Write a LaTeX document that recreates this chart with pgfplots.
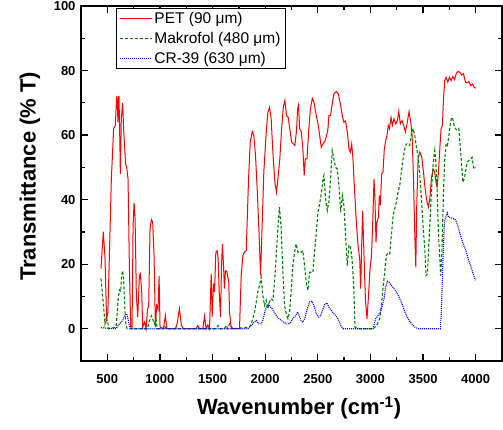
\documentclass[border=0pt]{standalone}
\usepackage{fontspec}
\setmainfont{Liberation Sans}
\usepackage{pgfplots}
\usepackage{pgfplotstable}
\pgfplotsset{compat=1.18}

\definecolor{petred}{RGB}{255,0,0}
\definecolor{makgreen}{RGB}{0,128,0}
\definecolor{crblue}{RGB}{0,0,255}

% PET (90 um)
\pgfplotstableread{
x y
440 18.6
462 30.1
478 22
493 3
505 5
519 21.7
538 46
560 62
576 63
589 72
595 70
601 64
606 72
611 72
618 60
624 48
633 65
646 70
655 62
665 56
674 51
684 50
697 46.4
709 20.7
722 0.6
735 0.5
745 32
754 39
764 34
776 10.3
789 3.6
805 16.5
814 17
827 11.4
836 0.5
855 2.1
868 0
883 6.2
893 6.8
906 31
919 33.8
931 33
944 22.7
957 0.5
969 7.2
982 6
992 16.3
1001 0.5
1033 0
1052 4.1
1065 0
1147 0
1163 1.5
1185 6.2
1204 1
1223 0
1344 0
1360 1
1376 0
1408 0
1423 3.9
1439 0
1455 1.2
1471 0
1487 17
1496 3.6
1509 14
1519 11.4
1531 23.7
1544 24.2
1553 21.7
1563 11.4
1576 3.6
1585 19.6
1594 26.3
1604 19.6
1613 12.4
1623 18
1636 17.7
1654 14.4
1661 5.2
1677 0
1756 0
1772 16.5
1788 22.7
1804 23.8
1820 24.2
1842 46.4
1858 57.8
1877 61.1
1892 59.9
1908 53.7
1924 43.3
1940 31
1956 16.5
1972 33
1987 48.5
2010 60.9
2025 67
2041 68.6
2057 65
2073 54.7
2092 45.4
2108 42.3
2124 47.5
2139 52.6
2156 61.9
2172 68.6
2187 70.7
2203 66
2219 65.5
2234 61.9
2251 57.8
2267 57.3
2282 56.8
2298 61.4
2308 68.1
2317 69.3
2327 62
2343 61
2358 55.7
2371 47.5
2381 52.6
2397 52.6
2413 61
2429 68
2448 71.4
2463 70.2
2486 66
2505 63
2524 58.3
2533 56.2
2549 57.3
2565 58
2580 59.4
2596 61.8
2605 66
2621 66
2637 69.7
2653 72.8
2676 73.5
2695 72.8
2714 69.7
2733 66
2748 64
2764 64.4
2780 61
2796 55.7
2809 54.7
2822 57.3
2834 52.6
2850 42.3
2866 33
2882 25.8
2898 21.7
2907 12.4
2917 25.8
2926 36.6
2936 25.8
2952 9.3
2967 3.1
2980 9.3
2996 18.6
3009 22.2
3021 32
3034 46.4
3043 40.2
3053 26.8
3062 33
3076 34.6
3085 41.3
3094 38.2
3107 48
3119 48.5
3132 55.7
3145 58.3
3157 59.9
3170 63
3180 62
3196 65.5
3208 63
3224 65
3240 63.5
3256 64.5
3269 67.3
3284 63.5
3300 64.5
3316 63
3332 61
3348 63.5
3367 67.3
3383 64
3396 59.9
3409 46.4
3421 29.9
3431 19.1
3440 38.2
3453 52.6
3469 54.7
3488 53.1
3504 48.5
3520 43.3
3538 39.2
3551 37.7
3564 40.2
3579 46.4
3595 49.5
3611 48.5
3623 45.4
3633 43.9
3646 48.5
3659 55.7
3671 62
3684 63
3694 71.2
3706 76.9
3719 77.9
3735 76.4
3751 77.9
3767 76.9
3783 78.2
3799 77.2
3815 79
3830 79.7
3849 79.5
3868 78.6
3884 79
3903 76.4
3919 76.2
3935 76.6
3954 75.3
3970 75.8
3985 74.8
4001 74.5
}\pet

% Makrofol (480 um)
\pgfplotstableread{
x y
440 15.5
455 10.3
469 5.2
478 1.5
488 3.1
503 2.5
513 0
583 0.5
595 5.2
607 10.3
617 12
627 11.5
636 16.5
646 18
655 15.5
665 7.2
674 2
687 0
884 0
893 2
909 3
919 4
931 3
947 1.5
963 3
973 0
1026 0
1042 1
1058 0
1534 0
1553 1
1572 0
1613 0
1629 1
1645 0
1661 1.5
1693 0
1851 0.5
1867 1.5
1883 3.1
1899 5.2
1915 8.3
1930 11.4
1946 13.4
1962 16
1978 10.3
1994 7.2
2010 8.8
2025 6.2
2041 8.3
2057 9.3
2073 8.8
2089 14.4
2105 22.7
2120 31
2136 37.7
2152 31
2168 17.5
2184 7.2
2200 4.7
2216 3.1
2232 5.2
2248 12.4
2263 19.6
2279 23.7
2295 26.3
2311 23.7
2327 24
2343 23.7
2358 24.2
2374 19.6
2390 14.4
2406 11.9
2422 17.5
2437 17.5
2453 17.5
2469 23.7
2486 29.9
2501 36.1
2517 38.7
2533 41.8
2549 46.4
2558 47.5
2574 40.2
2590 36.6
2605 39.2
2621 46.4
2637 55.2
2653 52.6
2669 50
2685 49.5
2701 44.3
2717 36.1
2733 41.3
2748 38.2
2764 28.9
2780 19.6
2796 25.8
2809 25.8
2825 21.7
2841 13.4
2853 0.5
2882 0
3024 0
3056 0.8
3088 3.1
3104 7.2
3119 12.4
3135 17.5
3151 22.7
3167 23.5
3183 23.2
3199 28.9
3215 35.1
3231 37.2
3246 39.2
3262 42.3
3278 44.3
3294 48.5
3310 52.6
3326 55.7
3342 57.3
3357 57.3
3373 56.8
3389 60.4
3405 62
3421 59.9
3437 56.2
3453 53.6
3469 47.5
3485 40.2
3500 32
3516 24.8
3529 16.5
3542 17
3554 25.8
3567 34
3579 42.3
3595 50.6
3611 55.2
3620 52.6
3633 43.3
3646 29.9
3659 21.7
3668 16.5
3681 25.8
3694 42.3
3706 52.6
3719 57.3
3732 56.8
3745 59.9
3757 63
3770 65.5
3783 65
3795 63
3808 62
3824 61.5
3840 62
3852 56.8
3865 51.6
3878 45.4
3890 46.4
3903 48.5
3919 51.6
3935 52.1
3951 52.6
3966 53.1
3982 49.5
3998 50
}\makrofol

% CR-39 (630 um)
\pgfplotstableread{
x y
440 0.3
583 0
614 1.5
646 2.5
665 4.1
684 4.6
697 3.1
709 1
725 0
1835 0
1867 1
1892 2
1915 2.6
1940 1.5
1962 1.5
1978 2.6
2000 5.7
2019 7.4
2035 7.7
2051 6.7
2067 6.2
2083 5.2
2105 4.1
2130 3.1
2152 2.6
2177 2
2200 1.5
2222 1.5
2241 2
2263 3.1
2289 4.1
2308 5.2
2327 3.6
2343 2.3
2358 2
2381 3.6
2400 6.2
2422 8.3
2444 8.5
2463 7.2
2486 4.6
2508 3.6
2527 4.1
2549 6.2
2568 7.7
2587 8
2605 6.7
2627 5.7
2653 4.6
2676 3.9
2698 2.6
2717 1
2739 0
3024 0
3050 3.1
3072 4.1
3094 5.2
3113 7.2
3129 9.3
3145 12.9
3161 14.7
3177 14.4
3199 13.4
3224 12.4
3246 11.4
3272 9.8
3294 8.3
3316 6.2
3342 4.1
3367 2.6
3392 1.5
3421 0.5
3453 0
3665 0
3674 5.2
3684 16.5
3694 25.8
3703 33
3716 34.6
3729 35.9
3741 34.6
3770 34.3
3802 34
3818 33
3833 31.5
3856 28.9
3881 26.3
3906 24.2
3929 21.7
3951 19.6
3976 17
3998 15
}\crtn

\begin{document}
\begin{tikzpicture}
\begin{axis}[
    scale only axis,
    width=421pt, height=355pt,
    xmin=250, xmax=4250,
    ymin=-10, ymax=100,
    xtick={500,1000,...,4000},
    ytick={0,20,...,100},
    minor x tick num=1,
    minor y tick num=1,
    tick align=inside,
    xtick pos=both, ytick pos=both,
    major tick length=7pt,
    minor tick length=4pt,
    axis line style={line width=1.5pt},
    every tick/.style={black, line width=1.3pt},
    /pgf/number format/assume math mode=true,
    /pgf/number format/set thousands separator={},
    tick label style={font=\bfseries\fontsize{13}{14}\selectfont},
    xticklabel style={yshift=-10pt},
    yticklabel style={xshift=-2pt},
    xlabel={Wavenumber (cm\textsuperscript{-1})},
    ylabel={Transmittance (\% T)},
    label style={font=\bfseries\fontsize{22}{24}\selectfont},
    xlabel style={at={(axis description cs:0.518,-0.1324)}, anchor=center},
    ylabel style={at={(axis description cs:-0.121,0.52)}, anchor=center},
    legend cell align=left,
    legend style={at={(rel axis cs:0.083,0.994)}, anchor=north west,
        draw=black, line width=0.8pt, font=\fontsize{15.5}{17}\selectfont,
        inner xsep=3pt, inner ysep=2pt, row sep=3pt},
    legend image code/.code={\draw[#1, line width=1.1pt] (0pt,0pt) -- (32pt,0pt);},
]
\addplot[petred, line width=1pt] table[x=x, y=y] {\pet};
\addlegendentry{PET (90 μm)}
\addplot[makgreen, line width=1.1pt, dash pattern=on 3pt off 2pt] table[x=x, y=y] {\makrofol};
\addlegendentry{Makrofol (480 μm)}
\addplot[crblue, line width=1.1pt, dash pattern=on 1pt off 1pt] table[x=x, y=y] {\crtn};
\addlegendentry{CR-39 (630 μm)}
\end{axis}
\pgfresetboundingbox
\useasboundingbox (-81pt,-68pt) rectangle (422pt,361pt);
\end{tikzpicture}
\end{document}
